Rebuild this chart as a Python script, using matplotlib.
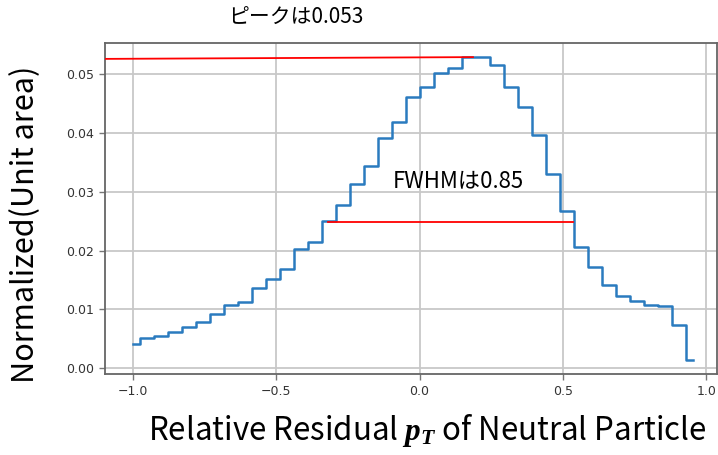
import numpy as np
import matplotlib
matplotlib.use("Agg")
import matplotlib.pyplot as plt

plt.rcParams["font.family"] = ["Noto Sans CJK JP", "DejaVu Sans"]
plt.rcParams["mathtext.fontset"] = "custom"
plt.rcParams["mathtext.it"] = "Liberation Serif:italic:bold"
plt.rcParams["mathtext.rm"] = "Liberation Serif:bold"

# Histogram: 41 bins over [-1, 1], normalized to unit area
bin_edges = np.linspace(-1.0, 1.0, 42)
bin_pos = bin_edges[:-1]
density = [0.0041, 0.0052, 0.0055, 0.0061, 0.0071, 0.0079, 0.0093, 0.0107,
           0.0113, 0.0136, 0.0151, 0.0168, 0.0202, 0.0214, 0.0250, 0.0277,
           0.0313, 0.0344, 0.0391, 0.0419, 0.0461, 0.0478, 0.0502, 0.0511,
           0.0530, 0.0529, 0.0516, 0.0478, 0.0445, 0.0396, 0.0330, 0.0268,
           0.0207, 0.0173, 0.0142, 0.0123, 0.0114, 0.0107, 0.0106, 0.0073,
           0.0014]

# Annotation guides
peak_value = 0.053
peak_line_x = [-1.0966, 0.186]
peak_line_y = [0.0526, 0.0529]
half_max = 0.0249
fwhm_x = [-0.320, 0.534]
fwhm_value = 0.85

xticks = [-1.0, -0.5, 0.0, 0.5, 1.0]
yticks = [0.00, 0.01, 0.02, 0.03, 0.04, 0.05]

fig = plt.figure(figsize=(7.18, 4.55), dpi=100)
ax = fig.add_axes([105 / 718, 1 - 374 / 455, 612 / 718, 331 / 455])

ax.plot(bin_pos, density, drawstyle="steps-mid", color="#2a7bbf", lw=1.8, zorder=3)
ax.plot(peak_line_x, peak_line_y, color="red", lw=1.3, zorder=4)
ax.plot(fwhm_x, [half_max, half_max], color="red", lw=1.3, zorder=4)

ax.set_xlim(-1.0966, 1.0366)
ax.set_ylim(-0.00097, 0.0553)
ax.set_xticks(xticks)
ax.set_yticks(yticks)
ax.set_xticklabels([f"{t:.1f}".replace("-", "\u2212") for t in xticks],
                   family="DejaVu Sans", fontsize=9, color="#333333")
ax.set_yticklabels([f"{t:.2f}" for t in yticks],
                   family="DejaVu Sans", fontsize=9, color="#333333")
ax.tick_params(length=4, width=1, color="#777777", pad=4)
ax.grid(True, color="#c8c8c8", lw=1.3)
ax.set_axisbelow(True)
for sp in ax.spines.values():
    sp.set_color("#666666")
    sp.set_linewidth(1.3)

ax.set_xlabel(r"Relative Residual $p_T$ of Neutral Particle", fontsize=22.5)
ax.xaxis.set_label_coords(0.526, -0.114)
ax.set_ylabel("Normalized(Unit area)", fontsize=22)
ax.yaxis.set_label_coords(-0.104, 0.453)

ax.text(-0.093, 0.0318, f"FWHMは{fwhm_value}", fontsize=16, ha="left", va="center")
fig.text(228 / 718, 1 - 18 / 455, f"ピークは{peak_value}", fontsize=15,
         ha="left", va="center")

fig.savefig("out.png", dpi=100)
